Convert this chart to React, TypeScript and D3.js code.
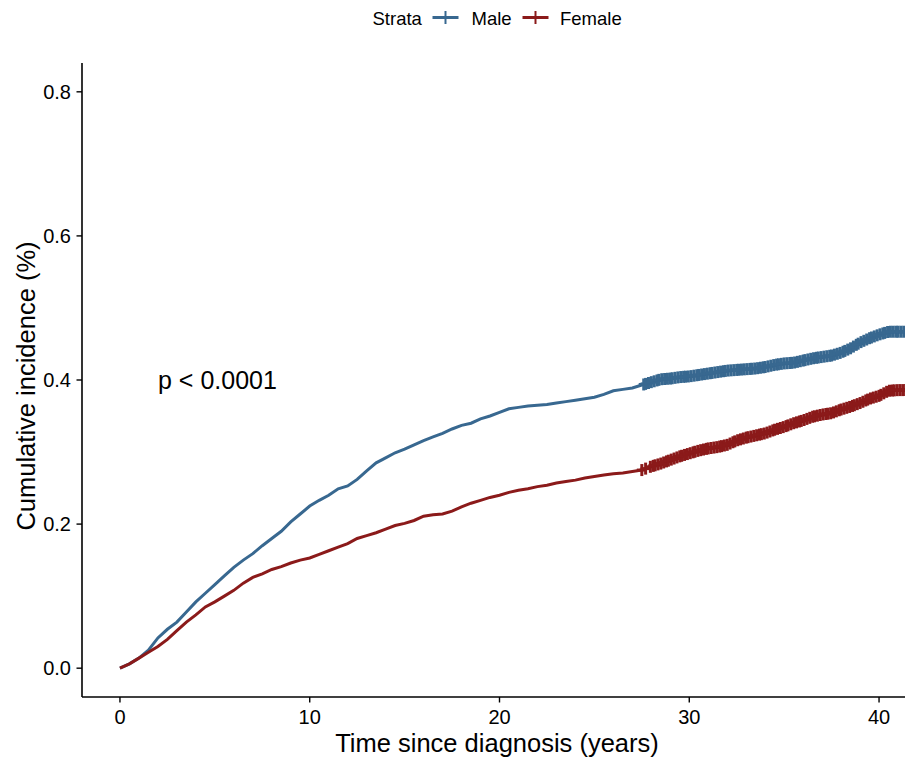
import React from "react";
import * as d3 from "d3";

const maleTimes = [0,0.5,1,1.5,2,2.5,3,3.5,4,4.5,5,5.5,6,6.5,7,7.5,8,8.5,9,9.5,10,10.5,11,11.5,12,12.5,13,13.5,14,14.5,15,15.5,16,16.5,17,17.5,18,18.5,19,19.5,20,20.5,21,21.5,22,22.5,23,23.5,24,24.5,25,25.5,26,26.5,27,27.5,28,28.5,29,29.5,30,30.5,31,31.5,32,32.5,33,33.5,34,34.5,35,35.5,36,36.5,37,37.5,38,38.5,39,39.5,40,40.5,41,41.8];
const maleValues = [0,0.006,0.014,0.025,0.042,0.054,0.064,0.078,0.092,0.104,0.116,0.128,0.14,0.15,0.159,0.17,0.18,0.19,0.203,0.214,0.225,0.233,0.24,0.249,0.253,0.262,0.274,0.285,0.292,0.299,0.304,0.31,0.316,0.321,0.326,0.332,0.337,0.34,0.346,0.35,0.355,0.36,0.362,0.364,0.365,0.366,0.368,0.37,0.372,0.374,0.376,0.38,0.385,0.387,0.389,0.393,0.397,0.401,0.402,0.404,0.405,0.407,0.409,0.411,0.413,0.414,0.415,0.416,0.418,0.421,0.423,0.424,0.427,0.43,0.432,0.434,0.438,0.444,0.452,0.458,0.463,0.467,0.467,0.467];

const femaleTimes = maleTimes;
const femaleValues = [0,0.006,0.014,0.022,0.03,0.04,0.052,0.064,0.074,0.085,0.092,0.1,0.108,0.118,0.126,0.131,0.137,0.141,0.146,0.15,0.153,0.158,0.163,0.168,0.173,0.18,0.184,0.188,0.193,0.198,0.201,0.205,0.211,0.213,0.214,0.218,0.224,0.229,0.233,0.237,0.24,0.244,0.247,0.249,0.252,0.254,0.257,0.259,0.261,0.264,0.266,0.268,0.27,0.271,0.273,0.275,0.28,0.284,0.289,0.294,0.298,0.302,0.305,0.307,0.31,0.316,0.32,0.323,0.326,0.331,0.335,0.34,0.344,0.349,0.352,0.354,0.359,0.363,0.368,0.374,0.378,0.385,0.386,0.386];

const maleCensor = [27.6,27.7,27.85,28.0,28.15,28.3,28.4,28.55,28.7,28.85,29.0,29.1,29.25,29.4,29.55,29.7,29.8,29.95,30.1,30.25,30.4,30.5,30.65,30.8,30.95,31.1,31.2,31.35,31.5,31.65,31.8,31.9,32.05,32.2,32.35,32.5,32.6,32.75,32.9,33.05,33.2,33.3,33.45,33.6,33.75,33.9,34.0,34.15,34.3,34.45,34.6,34.7,34.85,35.0,35.15,35.3,35.4,35.55,35.7,35.85,36.0,36.1,36.25,36.4,36.55,36.7,36.8,36.95,37.1,37.25,37.4,37.5,37.65,37.8,37.95,38.1,38.2,38.35,38.5,38.65,38.8,38.9,39.05,39.2,39.35,39.5,39.6,39.75,39.9,40.05,40.2,40.3,40.45,40.6,40.75,40.9,41.0,41.15,41.3,41.45,41.6];
const femaleCensor = [27.5,27.7,27.95,28.1,28.2,28.35,28.5,28.65,28.8,28.9,29.05,29.2,29.35,29.5,29.6,29.75,29.9,30.05,30.2,30.3,30.45,30.6,30.75,30.9,31.0,31.15,31.3,31.45,31.6,31.7,31.85,32.0,32.15,32.3,32.4,32.55,32.7,32.85,33.0,33.1,33.25,33.4,33.55,33.7,33.8,33.95,34.1,34.25,34.4,34.5,34.65,34.8,34.95,35.1,35.2,35.35,35.5,35.65,35.8,35.9,36.05,36.2,36.35,36.5,36.6,36.75,36.9,37.05,37.2,37.3,37.45,37.6,37.75,37.9,38.0,38.15,38.3,38.45,38.6,38.7,38.85,39.0,39.15,39.3,39.4,39.55,39.7,39.85,40.0,40.1,40.25,40.4,40.55,40.7,40.8,40.95,41.1,41.25,41.4,41.5,41.65];

const xTicks = [0, 10, 20, 30, 40];
const yTicks = [0, 0.2, 0.4, 0.6, 0.8];
const strataNames = ["Male", "Female"];
const strataColors = ["#386890", "#8B1A1A"];

const W = 905, H = 763;
const left = 82, right = 917, top = 63, bottom = 697;

export default function App() {
  const x = d3.scaleLinear().domain([-2, 42]).range([left, right]);
  const y = d3.scaleLinear().domain([-0.04, 0.84]).range([bottom, top]);
  const line = d3.line<[number, number]>().x(d => x(d[0])).y(d => y(d[1])).curve(d3.curveLinear);

  const series = [
    { times: maleTimes, values: maleValues, censor: maleCensor, color: strataColors[0] },
    { times: femaleTimes, values: femaleValues, censor: femaleCensor, color: strataColors[1] },
  ];

  const valueAt = (times: number[], values: number[], t: number) => {
    const i = d3.bisectRight(times, t) - 1;
    if (i >= times.length - 1) return values[values.length - 1];
    const i0 = Math.max(0, i);
    const f = (t - times[i0]) / (times[i0 + 1] - times[i0]);
    return values[i0] + f * (values[i0 + 1] - values[i0]);
  };

  const font = "'Liberation Sans', Arial, sans-serif";

  return (
    <div>
      <style>{"body{margin:0;}"}</style>
      <svg width={W} height={H} style={{ display: "block", background: "#fff" }} fontFamily={font}>
        <defs>
          <clipPath id="plotclip">
            <rect x={left} y={top - 10} width={W - left} height={bottom - top + 10} />
          </clipPath>
        </defs>
        {/* legend */}
        <g>
          <text x={372.5} y={24.5} fontSize={18.5} fill="#000">Strata</text>
          {strataNames.map((n, i) => {
            const kx = [432.5, 522.5][i];
            const tx = [471.5, 560][i];
            return (
              <g key={n}>
                <line x1={kx} x2={kx + 26} y1={17.5} y2={17.5} stroke={strataColors[i]} strokeWidth={3} />
                <line x1={kx + 13} x2={kx + 13} y1={11} y2={24} stroke={strataColors[i]} strokeWidth={2} />
                <text x={tx} y={24.5} fontSize={18.5} fill="#000">{n}</text>
              </g>
            );
          })}
        </g>
        {/* curves */}
        <g clipPath="url(#plotclip)">
          {series.map((s, i) => (
            <g key={i}>
              <path d={line(s.times.map((t, j) => [t, s.values[j]] as [number, number])) || ""} fill="none" stroke={s.color} strokeWidth={3} strokeLinejoin="miter" />
              {s.censor.map((c, j) => {
                const cy = y(valueAt(s.times, s.values, c));
                const cx = x(c);
                return (
                  <g key={j}>
                    <line x1={cx} x2={cx} y1={cy - 6} y2={cy + 6} stroke={s.color} strokeWidth={3} />
                    <line x1={cx - 5} x2={cx + 5} y1={cy} y2={cy} stroke={s.color} strokeWidth={3} />
                  </g>
                );
              })}
            </g>
          ))}
        </g>
        {/* p value */}
        <text x={158} y={389} fontSize={25} fill="#000">p &lt; 0.0001</text>
        {/* axes */}
        <line x1={left} x2={W} y1={bottom} y2={bottom} stroke="#000" strokeWidth={1.6} />
        <line x1={left} x2={left} y1={top} y2={bottom} stroke="#000" strokeWidth={1.6} />
        {xTicks.map(t => (
          <g key={t}>
            <line x1={x(t)} x2={x(t)} y1={bottom} y2={bottom + 5.5} stroke="#000" strokeWidth={1.4} />
            <text x={x(t)} y={724} fontSize={20} textAnchor="middle" fill="#000">{t}</text>
          </g>
        ))}
        {yTicks.map(t => (
          <g key={t}>
            <line x1={left - 5.5} x2={left} y1={y(t)} y2={y(t)} stroke="#000" strokeWidth={1.4} />
            <text x={71} y={y(t) + 7} fontSize={20} textAnchor="end" fill="#000">{t.toFixed(1)}</text>
          </g>
        ))}
        <text x={497} y={752} fontSize={25.5} textAnchor="middle" fill="#000">Time since diagnosis (years)</text>
        <text transform={`translate(35, 386) rotate(-90)`} fontSize={25.5} textAnchor="middle" fill="#000">Cumulative incidence (%)</text>
      </svg>
    </div>
  );
}
